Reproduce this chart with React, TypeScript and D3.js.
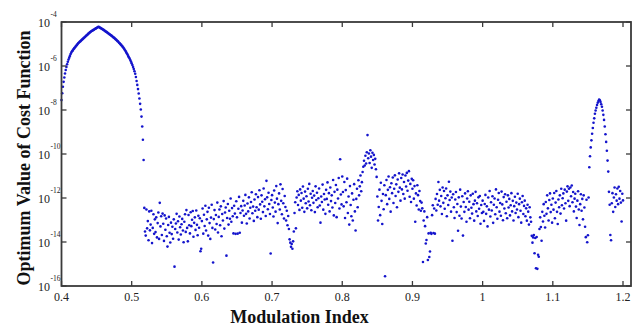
import React from "react";
import * as d3 from "d3";

// x grid step of the computed series
const STEP = 0.001;

// log10 of cost function values, main peak, x = 0.400 .. 0.517
const mainPeakStart = 0.4;
const mainPeak = [
  -7.55, -7.24, -6.94, -6.72, -6.52, -6.34, -6.18, -6.04, -5.92, -5.81,
  -5.71, -5.62, -5.54, -5.46, -5.39, -5.33, -5.29, -5.24, -5.2, -5.16,
  -5.12, -5.08, -5.04, -5.0, -4.96, -4.93, -4.9, -4.87, -4.84, -4.81,
  -4.78, -4.75, -4.72, -4.69, -4.66, -4.63, -4.6, -4.57, -4.54, -4.51,
  -4.48, -4.46, -4.43, -4.41, -4.39, -4.37, -4.35, -4.33, -4.31, -4.29,
  -4.27, -4.25, -4.23, -4.22, -4.24, -4.26, -4.28, -4.3, -4.32, -4.34,
  -4.36, -4.38, -4.41, -4.43, -4.45, -4.47, -4.5, -4.52, -4.55, -4.57,
  -4.59, -4.62, -4.64, -4.67, -4.7, -4.72, -4.75, -4.78, -4.81, -4.84,
  -4.87, -4.9, -4.94, -4.97, -5.01, -5.04, -5.08, -5.12, -5.16, -5.21,
  -5.26, -5.31, -5.36, -5.42, -5.48, -5.54, -5.6, -5.66, -5.73, -5.8,
  -5.88, -5.96, -6.05, -6.14, -6.24, -6.35, -6.5, -6.68, -6.86, -7.05,
  -7.25, -7.48, -7.72, -7.98, -8.3, -8.75, -9.35, -10.27,
];

// noise floor, x = 0.518 .. 0.599
const noise05Start = 0.518;
const noise05 = [
  -12.45, -13.52, -13.71, -12.52, -13.38, -13.05, -13.92, -12.61, -13.47, -13.21,
  -12.58, -14.05, -13.36, -12.74, -13.63, -12.97, -13.55, -12.88, -13.79, -13.14,
  -12.66, -13.86, -12.22, -13.29, -12.83, -13.68, -12.71, -13.17, -13.95, -12.79,
  -13.44, -12.93, -13.74, -14.21, -13.23, -12.86, -13.58, -14.02, -13.12, -13.64,
  -13.31, -13.85, -12.97, -15.12, -13.41, -13.16, -12.72, -13.57, -13.06, -13.89,
  -12.84, -13.33, -13.66, -13.19, -12.95, -13.48, -14.01, -13.08, -12.74, -13.54,
  -12.55, -13.36, -13.97, -12.77, -13.24, -13.61, -12.65, -13.28, -12.99, -12.59,
  -13.76, -13.13, -12.88, -13.45, -12.57, -13.22, -13.69, -12.81, -13.35, -12.92,
  -14.42, -14.31,
];

// x = 0.600 .. 0.699
const noise06Start = 0.6;
const noise06 = [
  -13.05, -12.48, -13.62, -12.76, -13.27, -12.35, -13.48, -12.97, -12.63, -13.71,
  -12.44, -13.14, -13.86, -12.89, -12.31, -13.36, -14.93, -12.96, -12.55, -13.43,
  -12.77, -13.18, -12.21, -13.57, -12.86, -12.52, -13.24, -12.38, -13.74, -12.73,
  -13.02, -12.14, -13.39, -12.66, -12.43, -14.62, -12.91, -12.27, -13.21, -12.58,
  -12.94, -12.02, -13.08, -12.46, -12.83, -13.61, -12.35, -12.71, -13.63, -12.15,
  -12.88, -13.62, -12.49, -11.95, -13.58, -12.68, -12.37, -13.12, -12.57, -12.13,
  -12.81, -12.34, -11.86, -12.72, -13.16, -12.25, -12.61, -11.97, -12.93, -12.44,
  -12.18, -11.74, -12.69, -12.39, -13.04, -12.07, -12.58, -11.83, -12.42, -12.87,
  -11.96, -12.53, -11.65, -12.29, -12.94, -11.88, -12.17, -12.64, -11.57, -12.38,
  -12.06, -12.82, -11.22, -11.97, -12.51, -11.76, -12.27, -12.73, -14.52, -12.09,
];

// x = 0.700 .. 0.799
const noise07Start = 0.7;
const noise07 = [
  -11.87, -12.43, -12.84, -11.66, -12.21, -12.62, -11.46, -12.03, -13.14, -12.28,
  -11.79, -12.52, -11.38, -12.13, -12.74, -11.59, -12.24, -12.93, -11.91, -12.41,
  -13.02, -12.58, -13.24, -12.82, -13.41, -13.88, -14.03, -14.22, -14.09, -14.31,
  -13.97, -13.52, -12.68, -12.19, -13.38, -11.98, -11.69, -12.32, -11.86, -12.54,
  -11.61, -12.12, -11.77, -12.44, -11.48, -12.03, -12.63, -11.71, -12.24, -11.92,
  -12.47, -11.58, -12.16, -11.36, -12.33, -11.81, -12.56, -11.99, -11.68, -12.22,
  -11.89, -12.64, -11.47, -12.09, -11.76, -12.42, -12.01, -11.57, -12.34, -13.12,
  -11.93, -12.18, -11.39, -12.53, -11.82, -12.07, -12.72, -11.63, -12.04, -11.29,
  -12.31, -11.78, -12.61, -11.52, -12.14, -11.88, -12.43, -11.18, -12.79, -11.72,
  -12.23, -11.41, -12.87, -11.62, -12.02, -11.09, -12.48, -10.24, -11.84, -12.29,
];

// x = 0.800 .. 0.899
const noise08Start = 0.8;
const noise08 = [
  -11.02, -11.73, -12.38, -11.27, -12.91, -11.64, -12.19, -11.12, -12.68, -11.93,
  -13.21, -11.46, -12.32, -12.83, -11.79, -13.02, -12.08, -11.37, -12.61, -13.48,
  -12.04, -11.58, -12.42, -11.19, -11.88, -11.47, -10.98, -11.69, -11.28, -10.82,
  -10.58, -10.31, -10.52, -10.08, -10.43, -9.92, -9.14, -10.19, -9.98, -10.41,
  -9.83, -10.12, -10.63, -9.94, -10.27, -10.04, -10.48, -10.22, -10.69, -11.04,
  -11.93, -13.02, -12.41, -11.62, -12.78, -11.31, -12.13, -13.18, -11.82, -12.51,
  -11.42, -15.56, -11.87, -11.18, -12.28, -11.63, -11.02, -12.04, -11.51, -12.62,
  -11.33, -11.78, -11.07, -12.23, -11.58, -10.97, -11.91, -11.38, -12.42, -11.16,
  -11.72, -10.88, -11.53, -12.12, -11.09, -11.61, -10.93, -11.82, -11.27, -12.03,
  -10.98, -11.48, -10.86, -11.67, -11.21, -10.78, -11.94, -11.36, -12.18, -11.13,
];

// x = 0.900 .. 0.999
const noise09Start = 0.9;
const noise09 = [
  -11.58, -11.19, -12.03, -11.46, -13.08, -11.79, -12.34, -11.42, -11.87, -12.52,
  -11.68, -12.14, -12.58, -12.21, -12.47, -14.91, -13.02, -12.61, -13.28, -14.07,
  -13.91, -12.87, -14.82, -13.61, -14.68, -14.43, -13.58, -13.63, -12.78, -12.33,
  -13.59, -12.48, -13.62, -12.04, -12.57, -11.82, -12.31, -11.27, -12.12, -11.63,
  -12.38, -11.91, -12.73, -11.52, -12.22, -11.68, -12.49, -12.01, -11.57, -12.83,
  -11.88, -12.32, -11.26, -12.09, -11.71, -12.62, -11.98, -13.94, -11.83, -12.42,
  -12.91, -12.07, -11.73, -12.64, -12.27, -13.49, -11.97, -12.81, -11.62, -12.39,
  -12.93, -11.92, -13.71, -12.18, -12.63, -11.79, -12.41, -13.08, -12.02, -11.69,
  -12.53, -12.17, -12.92, -11.88, -12.44, -12.71, -11.81, -12.28, -13.03, -12.12,
  -11.72, -12.61, -12.24, -12.82, -11.97, -12.49, -11.91, -13.17, -12.32, -12.68,
];

// x = 1.000 .. 1.099
const noise10Start = 1.0;
const noise10 = [
  -12.12, -12.63, -13.04, -12.27, -11.86, -12.72, -12.38, -13.29, -11.98, -12.53,
  -11.68, -12.84, -12.19, -12.57, -11.92, -13.13, -12.31, -12.02, -12.74, -11.61,
  -12.42, -12.94, -12.08, -11.77, -12.62, -12.23, -12.81, -11.71, -12.29, -13.01,
  -11.96, -12.48, -11.83, -12.69, -12.17, -12.92, -11.88, -12.43, -12.04, -12.79,
  -12.33, -11.78, -12.61, -12.13, -13.02, -12.37, -11.94, -12.68, -12.21, -12.52,
  -11.81, -12.87, -12.28, -12.03, -12.58, -13.12, -12.19, -11.91, -12.73, -12.36,
  -12.12, -12.83, -12.47, -13.03, -12.31, -12.62, -13.21, -12.42, -12.88, -13.08,
  -13.72, -14.03, -13.79, -13.68, -14.51, -13.82, -15.19, -13.77, -15.22, -14.58,
  -14.67, -13.41, -12.88, -13.32, -13.94, -12.63, -13.07, -12.28, -12.81, -13.34,
  -12.18, -12.72, -11.88, -12.47, -13.02, -12.09, -11.79, -12.64, -12.31, -13.12,
];

// x = 1.100 .. 1.151
const noise11Start = 1.1;
const noise11 = [
  -12.02, -12.53, -11.77, -12.92, -12.21, -11.68, -12.63, -13.18, -12.07, -12.42,
  -11.88, -12.71, -11.58, -12.33, -12.01, -11.79, -12.48, -11.62, -12.24, -13.03,
  -11.71, -11.47, -12.13, -11.58, -12.37, -11.52, -11.92, -11.43, -12.19, -11.73,
  -12.61, -12.03, -11.81, -12.39, -12.91, -12.12, -11.69, -12.52, -13.23, -12.28,
  -11.83, -12.58, -12.04, -12.97, -11.88, -12.43, -13.31, -13.78, -12.08, -14.01,
  -13.69, -11.98,
];

// secondary peak, x = 1.152 .. 1.179
const sidePeakStart = 1.152;
const sidePeak = [
  -10.6, -10.1, -9.7, -9.38, -9.08, -8.82, -8.58, -8.38, -8.17, -8.02,
  -7.9, -7.77, -7.67, -7.59, -7.53, -7.56, -7.64, -7.74, -7.85, -8.02,
  -8.22, -8.45, -8.75, -9.1, -9.45, -9.85, -10.3, -10.8,
];

// x = 1.180 .. 1.200
const noise12Start = 1.18;
const noise12 = [
  -11.72, -12.31, -13.68, -13.92, -12.24, -11.78, -12.63, -11.98, -11.52, -12.41,
  -11.83, -12.12, -11.57, -12.28, -11.49, -12.03, -11.68, -12.21, -13.07, -11.81,
  -12.11,
];

const xTickValues = [0.4, 0.5, 0.6, 0.7, 0.8, 0.9, 1.0, 1.1, 1.2];
const xTickLabels = ["0.4", "0.5", "0.6", "0.7", "0.8", "0.9", "1", "1.1", "1.2"];
const yTickExponents = [-16, -14, -12, -10, -8, -6, -4];

const segments = [
  { start: mainPeakStart, values: mainPeak },
  { start: noise05Start, values: noise05 },
  { start: noise06Start, values: noise06 },
  { start: noise07Start, values: noise07 },
  { start: noise08Start, values: noise08 },
  { start: noise09Start, values: noise09 },
  { start: noise10Start, values: noise10 },
  { start: noise11Start, values: noise11 },
  { start: sidePeakStart, values: sidePeak },
  { start: noise12Start, values: noise12 },
];

const W = 640;
const H = 328;
const L = 61.5;
const R = 631;
const T = 22;
const B = 286;
const FRAME = "#3a3a3a";
const FONT = "'Liberation Serif', 'Times New Roman', serif";

export default function App() {
  const x = d3.scaleLinear().domain([0.4, 1.2114]).range([L, R]);
  const y = d3.scaleLog().domain([1e-16, 1e-4]).range([B, T]);

  const points = segments.flatMap((s) =>
    s.values.map((e, i) => ({ x: s.start + i * STEP, v: Math.pow(10, e) }))
  );

  const tick = 5;

  return (
    <svg
      width={W}
      height={H}
      style={{ position: "fixed", left: 0, top: 0, display: "block", background: "#fff" }}
    >
      <rect x={0} y={0} width={W} height={H} fill="#fff" />
      {points.map((p, i) => (
        <circle key={i} cx={x(p.x)} cy={y(p.v)} r={1.3} fill="#1414cc" />
      ))}
      <rect x={L} y={T} width={R - L} height={B - T} fill="none" stroke={FRAME} strokeWidth={1.8} />
      {xTickValues.map((t, i) => (
        <g key={"xt" + i}>
          <line x1={x(t)} x2={x(t)} y1={B} y2={B - tick} stroke={FRAME} strokeWidth={1.3} />
          <line x1={x(t)} x2={x(t)} y1={T} y2={T + tick} stroke={FRAME} strokeWidth={1.3} />
          <text
            x={x(t)}
            y={297}
            textAnchor="middle"
            dominantBaseline="central"
            fontFamily={FONT}
            fontSize={12}
            fill="#222"
          >
            {xTickLabels[i]}
          </text>
        </g>
      ))}
      {yTickExponents.map((e) => {
        const yy = y(Math.pow(10, e));
        return (
          <g key={"yt" + e}>
            <line x1={L} x2={L + tick} y1={yy} y2={yy} stroke={FRAME} strokeWidth={1.3} />
            <line x1={R} x2={R - tick} y1={yy} y2={yy} stroke={FRAME} strokeWidth={1.3} />
            <text
              x={50}
              y={yy + 1}
              textAnchor="end"
              dominantBaseline="central"
              fontFamily={FONT}
              fontSize={12}
              fill="#222"
            >
              10
            </text>
            <text x={50.5} y={yy - 5} fontFamily={FONT} fontSize={7.5} fill="#222">
              {String(e)}
            </text>
          </g>
        );
      })}
      <text
        x={299.5}
        y={323}
        textAnchor="middle"
        fontFamily={FONT}
        fontWeight="bold"
        fontSize={18}
        fill="#111"
      >
        Modulation Index
      </text>
      <text
        transform={`translate(30, 158) rotate(-90)`}
        textAnchor="middle"
        fontFamily={FONT}
        fontWeight="bold"
        fontSize={18}
        fill="#111"
      >
        Optimum Value of Cost Function
      </text>
    </svg>
  );
}
